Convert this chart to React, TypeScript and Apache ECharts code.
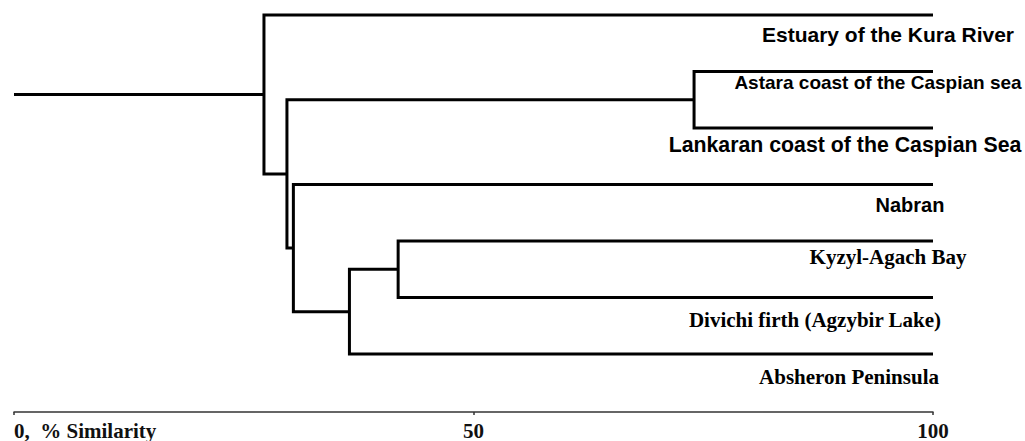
import React, { useEffect, useRef } from "react";
import * as echarts from "echarts";

// Leaves of the dendrogram, top to bottom
const leaves = [
  "Estuary of the Kura River",
  "Astara coast of the Caspian sea",
  "Lankaran coast of the Caspian Sea",
  "Nabran",
  "Kyzyl-Agach Bay",
  "Divichi firth (Agzybir Lake)",
  "Absheron Peninsula",
];

// Merges: [childA, childB, % similarity]; ids >= leaves.length are earlier merges
const merges: [number, number, number][] = [
  [1, 2, 74.0],
  [4, 5, 41.8],
  [8, 6, 36.5],
  [3, 9, 30.4],
  [7, 10, 29.7],
  [0, 11, 27.2],
];

const leafLevel = 100;
const rootStart = 0;
const xTicks = [0, 50, 100];
const axisTitle = "% Similarity";

// Styles for the leaf labels (not data)
const labelFonts = ["sans", "sans", "sans", "sans", "serif", "serif", "serif"];
const labelSizes = [21, 19, 21.3, 20, 21, 21, 21];
const labelDx = [-45, -55, -88, -23, -45, -118, -84];
const labelDy = [19, 11, 17, 20, 16, 22, 23];

const SANS = "'Liberation Sans', Arial, Helvetica, sans-serif";
const SERIF = "'Liberation Serif', 'Times New Roman', Times, serif";

function buildSegments() {
  const nx: number[] = leaves.map(() => leafLevel);
  const ny: number[] = leaves.map((_, i) => i);
  const segs: number[][][] = [];
  merges.forEach(([a, b, lvl]) => {
    segs.push([
      [nx[a], ny[a]],
      [lvl, ny[a]],
      [lvl, ny[b]],
      [nx[b], ny[b]],
    ]);
    nx.push(lvl);
    ny.push((ny[a] + ny[b]) / 2);
  });
  const r = nx.length - 1;
  segs.push([
    [rootStart, ny[r]],
    [nx[r], ny[r]],
  ]);
  return segs;
}

export default function App() {
  const ref = useRef<HTMLDivElement>(null);
  useEffect(() => {
    if (!ref.current) return;
    const chart = echarts.init(ref.current, null, { renderer: "svg" });
    const segments = buildSegments();
    chart.setOption({
      animation: false,
      backgroundColor: "#fff",
      grid: { left: 14, right: 92, top: 15, bottom: 86 },
      xAxis: {
        type: "value",
        position: "bottom",
        min: xTicks[0],
        max: xTicks[xTicks.length - 1],
        interval: xTicks[1] - xTicks[0],
        offset: 58,
        splitLine: { show: false },
        axisLine: { show: true, onZero: false, lineStyle: { color: "#333", width: 1.5 } },
        axisTick: { show: true, length: 3, lineStyle: { color: "#333", width: 1.5 } },
        axisLabel: {
          color: "#111",
          fontFamily: SERIF,
          fontWeight: "bold",
          fontSize: 21,
          margin: 8,
          alignMinLabel: "left",
          formatter: (v: number) => (v === 0 ? `0,  ${axisTitle}` : String(v)),
        },
      },
      yAxis: { type: "value", min: 0, max: leaves.length - 1, inverse: true, show: false },
      series: [
        {
          type: "custom",
          coordinateSystem: "cartesian2d",
          data: segments.map((s) => [s[0][0], s[0][1]]),
          renderItem: (params: any, api: any) => ({
            type: "polyline",
            shape: { points: segments[params.dataIndex].map((p) => api.coord(p)) },
            style: { stroke: "#000", lineWidth: 3, fill: null, lineJoin: "miter" },
          }),
        },
        {
          type: "custom",
          coordinateSystem: "cartesian2d",
          data: leaves.map((_, i) => [leafLevel, i]),
          renderItem: (params: any, api: any) => {
            const i = params.dataIndex;
            const p = api.coord([api.value(0), api.value(1)]);
            return {
              type: "text",
              x: p[0] + labelDx[i],
              y: p[1] + labelDy[i],
              style: {
                text: leaves[i],
                fill: "#000",
                fontFamily: labelFonts[i] === "sans" ? SANS : SERIF,
                fontWeight: "bold",
                fontSize: labelSizes[i],
                align: "center",
                verticalAlign: "middle",
              },
            };
          },
        },
      ],
    });
    return () => chart.dispose();
  }, []);
  return (
    <div
      ref={ref}
      style={{ position: "absolute", left: 0, top: 0, width: 1025, height: 441 }}
    />
  );
}
